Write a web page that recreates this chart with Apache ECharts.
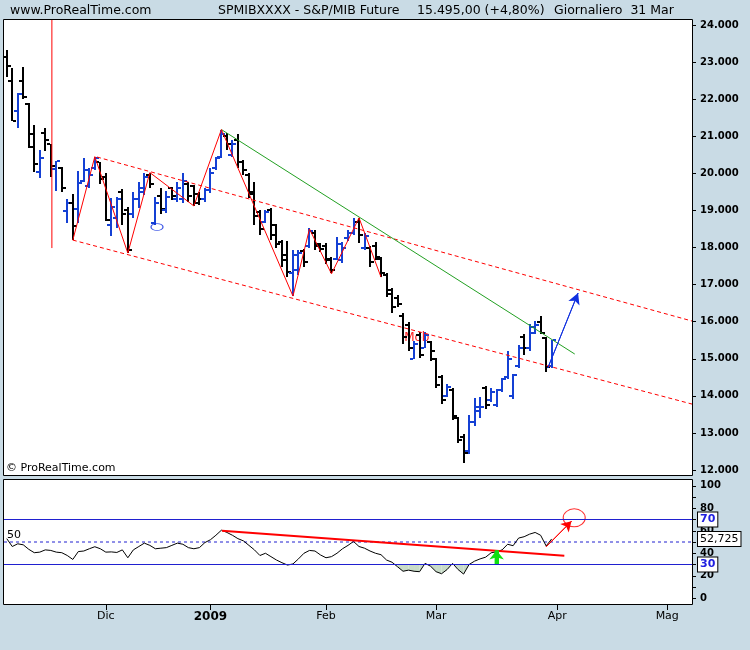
<!DOCTYPE html>
<html><head><meta charset="utf-8">
<script src="https://cdn.jsdelivr.net/npm/echarts/dist/echarts.min.js"></script>
<style>html,body{margin:0;padding:0;background:#c9dbe5;}#c{width:750px;height:650px;}</style>
</head><body><div id="c"></div>
<script>
// ---- trading days (categories) ----
const daysNov08 = [5,6,7,10,11,12,13,14,17,18,19,20,21,24,25,26,27,28];
const daysDec08 = [1,2,3,4,5,8,9,10,11,12,15,16,17,18,19,22,23,29,30];
const daysJan09 = [2,5,6,7,8,9,12,13,14,15,16,19,20,21,22,23,26,27,28,29,30];
const daysFeb09 = [2,3,4,5,6,9,10,11,12,13,16,17,18,19,20,23,24,25,26,27];
const daysMar09 = [2,3,4,5,6,9,10,11,12,13,16,17,18,19,20,23,24,25,26,27,30,31];
const daysApr09 = [1,2,3,6,7,8,9,14,15,16,17,20,21,22,23,24,27,28,29,30];
const daysMay09 = [4,5,6,7,8];
const monthLabels = {'2008-12':'Dic','2009-01':'2009','2009-02':'Feb','2009-03':'Mar','2009-04':'Apr','2009-05':'Mag'};

// ---- OHLC values ----
const openP = [23130,22480,21670,22480,21880,21050,20045,21100,20780,20125,20150,18990,19200,19040,19800,19650,20150,20300,
 19900,18600,18800,19500,19000,18900,19300,19500,19950,18650,19400,19000,19600,19300,19300,19700,19650,19450,19300,
 19550,20150,20450,21000,20500,20900,20300,19950,19500,18950,18700,19000,18600,18150,17800,17300,17400,17900,18050,18400,18100,
 18050,17700,17700,17650,18250,18400,18700,18000,18000,18050,17700,17250,16850,16650,16150,15900,15000,15650,15300,15450,
 15000,14500,14000,14150,13400,12900,12500,13300,13600,14200,13900,13750,14150,14500,14000,14800,15600,15300,15700,16000,15550,14800];
const highP = [23320,22835,22160,22860,21910,21290,20640,21210,20800,20340,20180,19310,19450,20070,20420,20150,20450,20310,
 20020,19340,19370,19580,19090,19500,19770,20020,20020,19370,19610,19530,19640,19770,20020,19770,19690,19500,19610,
 20150,20450,21180,21100,20910,21050,20370,20020,19770,19016,19016,19070,18640,18200,18180,17930,17930,17960,18530,18470,18120,
 18120,17740,18280,18150,18470,18800,18800,18390,18040,18150,17740,17310,16900,16710,16225,15980,15490,15710,15710,15470,
 15030,14570,14330,14220,13440,12970,13490,13950,13980,14270,14220,14190,14490,15200,14600,15360,15680,15930,16010,16140,15575,15495];
const lowP = [22590,21400,21210,22000,20670,20045,19880,20610,19910,19530,19500,18660,18200,18660,19770,19610,20100,19720,
 18720,18310,18530,18610,17850,18800,19070,19420,19610,18610,18900,18930,19290,19230,19200,19230,19120,19150,19230,
 19480,20100,20420,20640,20450,20150,19960,19340,18610,18338,18660,18200,17990,17470,17200,16690,17250,17470,17990,17930,17880,
 17550,17310,17660,17580,18180,18340,18120,17930,17470,17660,17200,16660,16230,16390,15410,15220,14980,15010,15280,14950,
 14220,13790,13980,13350,12730,12190,12430,13190,13410,13650,13840,13710,14110,14460,13920,14740,15110,15200,15680,15680,14630,14760];
const closeP = [22890,21420,22130,22050,20700,20260,20420,20910,20200,20320,19610,19200,18580,19750,20100,19950,20400,19850,
 18750,19100,19300,18900,17920,19300,19600,19900,19700,19200,19050,19350,19400,19600,19800,19400,19200,19300,19550,
 20000,20400,21050,20800,20800,20300,20100,19450,18850,18500,18950,18350,18100,17650,17350,17800,17850,17600,18450,18050,17950,
 17650,17400,18100,18000,18400,18700,18350,18300,17600,17750,17300,16750,16400,16470,15600,15300,15400,15100,15650,15200,
 14300,13900,14250,13450,12800,12450,13300,13700,13700,13750,14100,14150,14450,15000,14550,15300,15300,15850,15900,15700,14785,15495];

// ---- RSI values ----
const rsiVals = [53,46,48.4,47.5,43.5,40.5,41,43,42.5,41,40.5,38,34.5,41.5,42,44,45.8,44,
 41,41.2,40.7,43,36,43,46,49,47,44,44.5,45,47,49,48,45,44,45,49.5,
 52,56,60.5,58.5,56,53,51,47,43,38,40,37,34,31.6,29.5,30.5,35,40,42.5,42,38.5,
 36,37,40,44,47,50.5,46,44.5,42,40,38.7,34,32,28,24,25,24,23.6,31,28.5,
 23.6,21.8,25.5,31,25.5,21.5,30,33,35,36.5,40.4,41.3,43,48,46.7,53.5,54.7,57,58.5,56,46.5,52.7];
const rsiLast = 52.725;
const rsiLow = 30, rsiHigh = 70, rsiMid = 50;

// ---- drawings (index, value) ----
const zigzagIdx = [12,16,22,26,34,39,52,55,59,64,68];
const zigzagPx  = [18200,20450,17850,20020,19120,21180,16690,18500,17290,18800,17200];
const upperChannel = [[16.4,20440],[124.5,16017]];
const lowerChannel = [[12,18200],[124.5,13778]];
const greenLine = [[39,21180],[103.2,15127]];
const redVertical = [[8.2,17985],[8.2,24135]];
const blueArrow = [[98.3,14749],[103.8,16772]];
const blueEllipse = [[27.3,18552]];
const mobText = [[72.2,15558]];
const rsiTrend = [[39.1,60],[101.3,37.8]];
const rsiRedArrow = [[98,45.8],[102.6,68.5]];
const rsiCircle = [[103.1,71.5]];
const rsiGreenArrow = [[89,30],[89,42.5]];

// build categories
const dates = [];
[['2008-11',daysNov08],['2008-12',daysDec08],['2009-01',daysJan09],['2009-02',daysFeb09],
 ['2009-03',daysMar09],['2009-04',daysApr09],['2009-05',daysMay09]].forEach(([m,ds])=>{
  ds.forEach(d=>dates.push(m+'-'+String(d).padStart(2,'0')));
});
const N = dates.length;
const X0 = -0.5, X1 = N-0.5;
const isMonthStart = (i)=> i>0 && dates[i].slice(0,7)!==dates[i-1].slice(0,7);

const UP = '#1440d4', DOWN = '#000000';
const ohlc = openP.map((o,i)=>[i,o,highP[i],lowP[i],closeP[i]]);

function renderOHLC(params, api){
  const i=api.value(0),o=api.value(1),h=api.value(2),l=api.value(3),c=api.value(4);
  const ph=api.coord([i,h]), pl=api.coord([i,l]), po=api.coord([i,o]), pc=api.coord([i,c]);
  const x=Math.round(ph[0]);
  const col = c>=o?UP:DOWN;
  const yh=Math.round(ph[1]), yl=Math.round(pl[1]);
  return {type:'group',children:[
    {type:'rect',shape:{x:x-1,y:yh,width:2,height:Math.max(1,yl-yh)},style:{fill:col}},
    {type:'rect',shape:{x:x-4,y:Math.round(po[1])-1,width:3,height:2},style:{fill:col}},
    {type:'rect',shape:{x:x+1,y:Math.round(pc[1])-1,width:3,height:2},style:{fill:col}}
  ]};
}

// shaded area between RSI and the 30 line where RSI < 30
const rsiSeg = rsiVals.slice(0,-1).map((v,i)=>[i,v,rsiVals[i+1]]);
function renderOversold(params, api){
  const i=api.value(0), a=api.value(1), b=api.value(2), L=rsiLow;
  if (a>=L && b>=L) return null;
  let pts;
  if (a<L && b<L) pts=[[i,L],[i,a],[i+1,b],[i+1,L]];
  else if (a<L) { const t=(L-a)/(b-a); pts=[[i,L],[i,a],[i+t,L]]; }
  else { const t=(a-L)/(a-b); pts=[[i+t,L],[i+1,b],[i+1,L]]; }
  return {type:'polygon',shape:{points:pts.map(p=>api.coord(p))},style:{fill:'#c8dbc8',stroke:null,lineWidth:0}};
}

const FONT = 'DejaVu Sans';
function renderText(params, api){
  const p = api.coord([api.value(0), api.value(1)]);
  return {type:'text',x:p[0],y:p[1],style:{text:'Mob',fill:'#ff2020',font:'12px "DejaVu Sans"',verticalAlign:'middle',align:'left'}};
}

const hdr = (text,left,top,size)=>({text,left,top,padding:0,textStyle:{fontFamily:FONT,fontSize:size||12.5,fontWeight:'normal',color:'#000'}});
const noLine = {show:false,onZero:false};

function levelSeries(value, color, type, labelText, labelColor, weight){
  return {type:'line',xAxisIndex:1,yAxisIndex:1,data:[[X0,value],[X1,value]],showSymbol:false,symbol:'none',
    z:labelText?6:2,silent:true,
    lineStyle:{color:color,width:1,type:type},
    endLabel:{show:!!labelText,formatter:labelText||'',distance:6,color:labelColor,backgroundColor:'#fff',
      borderColor:'#000',borderWidth:1,padding:[2,2,1,2],fontFamily:FONT,fontSize:11,fontWeight:weight||'bold'}};
}

const chart = echarts.init(document.getElementById('c'));
chart.setOption({
  animation:false,
  backgroundColor:'#c9dbe5',
  title:[
    hdr('www.ProRealTime.com',10,4),
    hdr('SPMIBXXXX - S&P/MIB Future',218,4),
    hdr('15.495,00 (+4,80%)',417,4),
    hdr('Giornaliero  31 Mar',554,4),
    hdr('© ProRealTime.com',6,463,11),
    hdr('50',7,530,11)
  ],
  graphic:[
    {type:'rect',z:-10,shape:{x:3.5,y:19.5,width:689,height:456},style:{fill:'#fff',stroke:'#000',lineWidth:1}},
    {type:'rect',z:-10,shape:{x:3.5,y:479.5,width:689,height:125},style:{fill:'#fff',stroke:'#000',lineWidth:1}}
  ],
  grid:[
    {left:4,right:58,top:25,bottom:180},
    {left:4,right:58,top:485.75,bottom:51.75}
  ],
  xAxis:[
    {type:'value',gridIndex:0,min:X0,max:X1,show:false,axisLine:noLine},
    {type:'value',gridIndex:1,min:X0,max:X1,show:false,axisLine:noLine},
    {type:'category',gridIndex:1,data:dates,boundaryGap:true,position:'bottom',offset:6.75,
      axisLine:noLine,
      axisTick:{show:true,alignWithLabel:true,length:5,interval:(i)=>isMonthStart(i),lineStyle:{color:'#000'}},
      axisLabel:{interval:(i)=>isMonthStart(i),margin:6,
        formatter:(v)=>{const m=monthLabels[v.slice(0,7)]; return m==='2009'?'{y|2009}':'{m|'+m+'}';},
        rich:{m:{fontFamily:FONT,fontSize:11,color:'#000'},y:{fontFamily:FONT,fontSize:12,fontWeight:'bold',color:'#000'}}},
      splitLine:{show:false}}
  ],
  yAxis:[
    {type:'value',gridIndex:0,position:'right',min:12000,max:24000,interval:1000,
      axisLine:noLine,axisTick:{show:true,length:4,lineStyle:{color:'#000'}},splitLine:{show:false},
      axisLabel:{margin:8,fontFamily:FONT,fontSize:10,fontWeight:'bold',color:'#000',
        formatter:(v)=>(v/1000)+'.000'}},
    {type:'value',gridIndex:1,position:'right',min:0,max:100,interval:10,
      axisLine:noLine,axisTick:{show:true,length:4,lineStyle:{color:'#000'}},splitLine:{show:false},
      axisLabel:{margin:8,fontFamily:FONT,fontSize:10,fontWeight:'bold',color:'#000',
        formatter:(v)=>(v%20===0?String(v):'')}}
  ],
  series:[
    {type:'custom',xAxisIndex:0,yAxisIndex:0,data:mobText,renderItem:renderText,z:1,silent:true},
    {type:'custom',xAxisIndex:0,yAxisIndex:0,data:ohlc,renderItem:renderOHLC,encode:{x:0,y:[1,2,3,4]},z:3},
    {type:'line',xAxisIndex:0,yAxisIndex:0,data:upperChannel,showSymbol:false,symbol:'none',z:4,
      lineStyle:{color:'#ff0000',width:1,type:[4,3]}},
    {type:'line',xAxisIndex:0,yAxisIndex:0,data:lowerChannel,showSymbol:false,symbol:'none',z:4,
      lineStyle:{color:'#ff0000',width:1,type:[4,3]}},
    {type:'line',xAxisIndex:0,yAxisIndex:0,data:greenLine,showSymbol:false,symbol:'none',z:4,
      lineStyle:{color:'#22a022',width:1}},
    {type:'line',xAxisIndex:0,yAxisIndex:0,data:zigzagIdx.map((x,i)=>[x,zigzagPx[i]]),showSymbol:false,symbol:'none',z:4,
      lineStyle:{color:'#ff0000',width:1}},
    {type:'line',xAxisIndex:0,yAxisIndex:0,data:redVertical,showSymbol:false,symbol:'none',z:4,clip:false,
      lineStyle:{color:'#ff0000',width:1}},
    {type:'line',xAxisIndex:0,yAxisIndex:0,data:blueArrow,showSymbol:false,symbol:'none',z:4,
      lineStyle:{color:'#1030e0',width:1},
      markLine:{silent:true,symbol:['none','arrow'],symbolSize:[9,11],label:{show:false},
        lineStyle:{color:'#1030e0',width:1,type:'solid'},
        data:[[{coord:blueArrow[0]},{coord:blueArrow[1]}]]}},
    {type:'scatter',xAxisIndex:0,yAxisIndex:0,data:blueEllipse,symbol:'circle',symbolSize:[12,7],z:4,silent:true,
      itemStyle:{color:'rgba(0,0,0,0)',borderColor:'#1030e0',borderWidth:1}},

    // RSI panel
    {type:'custom',xAxisIndex:1,yAxisIndex:1,data:rsiSeg,renderItem:renderOversold,encode:{x:0,y:[1,2]},z:1,silent:true},
    levelSeries(rsiMid,'#2020d0',[3,3]),
    levelSeries(rsiHigh,'#2020d0','solid','70','#2020e0'),
    levelSeries(rsiLow,'#2020d0','solid','30','#2020e0'),
    levelSeries(rsiLast,'rgba(0,0,0,0)','solid','52,725','#000','normal'),
    {type:'line',xAxisIndex:1,yAxisIndex:1,data:rsiVals.map((v,i)=>[i,v]),showSymbol:false,symbol:'none',z:3,
      lineStyle:{color:'#000',width:1}},
    {type:'line',xAxisIndex:1,yAxisIndex:1,data:rsiTrend,showSymbol:false,symbol:'none',z:4,
      lineStyle:{color:'#ff0000',width:2}},
    {type:'line',xAxisIndex:1,yAxisIndex:1,data:rsiRedArrow,showSymbol:false,symbol:'none',z:4,
      lineStyle:{color:'#ff0000',width:1},
      markLine:{silent:true,symbol:['none','arrow'],symbolSize:[9,10],label:{show:false},
        lineStyle:{color:'#ff0000',width:1,type:'solid'},
        data:[[{coord:rsiRedArrow[0]},{coord:rsiRedArrow[1]}]]}},
    {type:'scatter',xAxisIndex:1,yAxisIndex:1,data:rsiCircle,symbol:'circle',symbolSize:[22,18],z:4,silent:true,
      itemStyle:{color:'rgba(0,0,0,0)',borderColor:'#ff0000',borderWidth:1}},
    {type:'line',xAxisIndex:1,yAxisIndex:1,data:rsiGreenArrow,showSymbol:false,symbol:'none',z:5,
      lineStyle:{color:'#10e010',width:4},
      markLine:{silent:true,symbol:['none','arrow'],symbolSize:[11,9],label:{show:false},
        lineStyle:{color:'#10e010',width:4,type:'solid'},
        data:[[{coord:rsiGreenArrow[0]},{coord:rsiGreenArrow[1]}]]}}
  ]
});
</script></body></html>
